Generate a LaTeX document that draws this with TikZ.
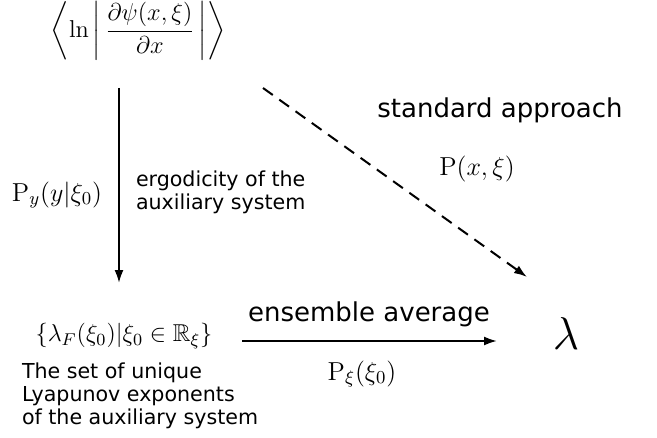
\RequirePackage{fix-cm}
\documentclass[tikz,border=0pt]{standalone}
\usepackage{amsmath,amssymb}
\usepackage{fontspec}
\setsansfont{DejaVu Sans}
\usepackage{tikz}
\usetikzlibrary{arrows.meta}

\begin{document}
\begin{tikzpicture}[x=0.5pt,y=-0.5pt,>={Latex[length=6.5pt,width=4.5pt]},line width=1pt,
  mth/.style={inner sep=0pt,font=\fontsize{13}{15.6}\selectfont},
  big/.style={inner sep=0pt,font=\fontsize{13}{15.6}\selectfont\sffamily},
  small/.style={inner sep=0pt,align=left,font=\fontsize{10.3}{11.6}\selectfont\sffamily}]
\useasboundingbox (0,0) rectangle (657,438);
% the three quantities
\node[mth,font=\fontsize{12.2}{14}\selectfont] (psi) at (138,31) {$\displaystyle\biggl\langle\ln\,\biggl|\,\frac{\partial\psi(x,\xi)}{\partial x}\,\biggr|\biggr\rangle$};
\node[mth,font=\fontsize{12.2}{14}\selectfont] (lset) at (124,336) {$\{\lambda_F(\xi_0)|\xi_0\in\mathbb{R}_\xi\}$};
\node[inner sep=0pt,font=\fontsize{23}{27}\selectfont] (lam) at (566,334) {$\lambda$};
% labels
\node[mth] (py) at (57,195) {$\mathrm{P}_y(y|\xi_0)$};
\node[small,anchor=west] (ergo) at (135,192) {ergodicity of the\\auxiliary system};
\node[small,anchor=west] (lyap) at (21,396) {The set of unique\\Lyapunov exponents\\of the auxiliary system};
\node[big] (std) at (500,110) {standard approach};
\node[mth] (pxxi) at (477,169) {$\mathrm{P}(x,\xi)$};
\node[big] (ens) at (369,314) {ensemble average};
\node[mth] (pxi) at (362,374) {$\mathrm{P}_\xi(\xi_0)$};
% arrows
\draw[->] ([xshift=-9.5pt,yshift=-28.5pt]psi.center) -- ([xshift=-2.5pt,yshift=26.5pt]lset.center);
\draw[->] ([xshift=59pt,yshift=-2.5pt]lset.center) -- ([xshift=-34.5pt,yshift=-3.5pt]lam.center);
\draw[->,dash pattern=on 6pt off 4pt] ([xshift=62.5pt,yshift=-28.5pt]psi.center) -- ([xshift=-19.5pt,yshift=28.5pt]lam.center);
\end{tikzpicture}
\end{document}
